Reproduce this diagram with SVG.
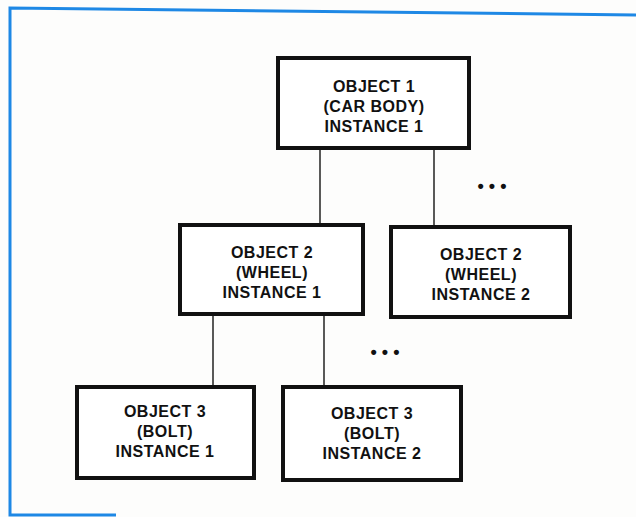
<svg xmlns="http://www.w3.org/2000/svg" width="636" height="517" viewBox="0 0 636 517">
<style>
.frame{fill:none;stroke:#1e88e5;stroke-width:3}
.box{fill:#fff;stroke:#111;stroke-width:4}
.lbl{font-family:"Liberation Sans",Arial,sans-serif;font-weight:bold;font-size:16px;fill:#111;text-anchor:middle;letter-spacing:0.5px}
.conn{stroke:#222;stroke-width:1.5;fill:none}
.dots{font-family:"Liberation Sans",Arial,sans-serif;font-weight:bold;font-size:18px;fill:#111;text-anchor:middle}
</style>
<rect width="636" height="517" fill="#fdfdfc"/>
<g id="frame">
<path class="frame" d="M636 15 L10 8 L10 515 L116 515"/>
</g>
<g id="connectors">
<line class="conn" x1="320" y1="148" x2="320" y2="225"/>
<line class="conn" x1="434" y1="148" x2="434" y2="227"/>
<line class="conn" x1="213" y1="314" x2="213" y2="387"/>
<line class="conn" x1="324" y1="314" x2="324" y2="387"/>
<text class="dots" x="492" y="192">• • •</text>
<text class="dots" x="385" y="358">• • •</text>
</g>
<g id="node-object1">
<rect class="box" x="278" y="58" width="191" height="90"/>
<text class="lbl" x="374" y="92">OBJECT 1</text>
<text class="lbl" x="374" y="112">(CAR BODY)</text>
<text class="lbl" x="374" y="132">INSTANCE 1</text>
</g>
<g id="node-object2-1">
<rect class="box" x="180" y="225" width="183" height="89"/>
<text class="lbl" x="272" y="258">OBJECT 2</text>
<text class="lbl" x="272" y="278">(WHEEL)</text>
<text class="lbl" x="272" y="298">INSTANCE 1</text>
</g>
<g id="node-object2-2">
<rect class="box" x="391" y="227" width="179" height="90"/>
<text class="lbl" x="481" y="260">OBJECT 2</text>
<text class="lbl" x="481" y="280">(WHEEL)</text>
<text class="lbl" x="481" y="300">INSTANCE 2</text>
</g>
<g id="node-object3-1">
<rect class="box" x="77" y="387" width="177" height="91"/>
<text class="lbl" x="165" y="417">OBJECT 3</text>
<text class="lbl" x="165" y="437">(BOLT)</text>
<text class="lbl" x="165" y="457">INSTANCE 1</text>
</g>
<g id="node-object3-2">
<rect class="box" x="283" y="387" width="178" height="93"/>
<text class="lbl" x="372" y="419">OBJECT 3</text>
<text class="lbl" x="372" y="439">(BOLT)</text>
<text class="lbl" x="372" y="459">INSTANCE 2</text>
</g>
</svg>
